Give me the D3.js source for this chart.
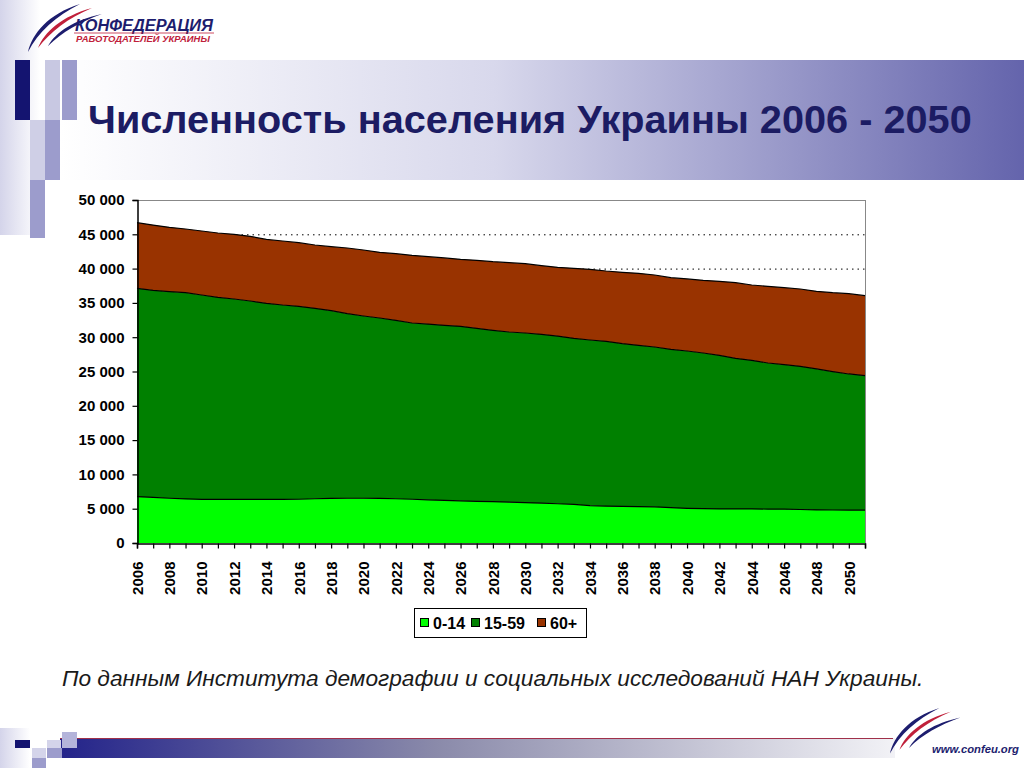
<!DOCTYPE html>
<html><head><meta charset="utf-8">
<script src="https://cdn.jsdelivr.net/npm/d3@7"></script>
<style>html,body{margin:0;padding:0;background:#fff;}svg{display:block;font-family:"Liberation Sans",Arial,sans-serif;}</style>
</head><body>
<script>
// ---- data (thousands of people) ----
const years = [2006,2007,2008,2009,2010,2011,2012,2013,2014,2015,2016,2017,2018,2019,2020,2021,2022,2023,2024,2025,2026,2027,2028,2029,2030,2031,2032,2033,2034,2035,2036,2037,2038,2039,2040,2041,2042,2043,2044,2045,2046,2047,2048,2049,2050,2051];
const age0_14 = [6750,6650,6520,6420,6360,6350,6350,6350,6350,6360,6380,6450,6510,6520,6520,6500,6450,6380,6300,6220,6150,6080,6020,5950,5880,5800,5720,5630,5450,5380,5330,5300,5280,5150,5050,5000,4970,4960,4960,4950,4950,4880,4820,4810,4800,4800];
const age15_59 = [30370,30180,30120,30070,29790,29460,29220,28930,28590,28330,28120,27760,27360,26910,26570,26300,26010,25690,25620,25510,25430,25210,24980,24810,24730,24620,24450,24200,24140,24020,23730,23510,23290,23080,22940,22700,22390,21960,21670,21290,21050,20880,20550,20170,19840,19600];
const age60plus = [9580,9520,9380,9280,9330,9380,9420,9420,9320,9330,9280,9230,9330,9570,9620,9570,9720,9860,9820,9820,9770,9920,10010,10110,10110,10010,10020,10210,10310,10250,10400,10500,10500,10450,10500,10590,10790,11030,10980,11180,11220,11270,11320,11510,11710,11650];
const seriesNames = ["0-14","15-59","60+"];
const seriesColors = ["#00ff00","#008000","#993300"];
const yTicks = [0,5000,10000,15000,20000,25000,30000,35000,40000,45000,50000];
const title = "Численность населения Украины 2006 - 2050";
const source = "По данным Института демографии и социальных исследований НАН Украины.";

const W = 1024, H = 768;
const svg = d3.select("body").append("svg").attr("width", W).attr("height", H);
const defs = svg.append("defs");

function fit(sel, width){
  const fs = parseFloat(sel.attr("font-size"));
  const w = sel.node().getComputedTextLength();
  if (w > 0) sel.attr("font-size", (fs*width/w).toFixed(2));
  return sel;
}

// header band gradient
const g1 = defs.append("linearGradient").attr("id","band").attr("x1","0").attr("x2","1").attr("y1","0").attr("y2","0");
g1.append("stop").attr("offset","0").attr("stop-color","#ffffff");
g1.append("stop").attr("offset","0.45").attr("stop-color","#d8d8ec");
g1.append("stop").attr("offset","1").attr("stop-color","#6464ac");
svg.append("rect").attr("x",60).attr("y",60).attr("width",W-60).attr("height",120).attr("fill","url(#band)");

// left faint strip
const g2 = defs.append("linearGradient").attr("id","strip").attr("x1","0").attr("x2","1");
g2.append("stop").attr("offset","0").attr("stop-color","#d4d4ea");
g2.append("stop").attr("offset","1").attr("stop-color","#ffffff");
svg.append("rect").attr("x",0).attr("y",0).attr("width",40).attr("height",235).attr("fill","url(#strip)");
svg.append("rect").attr("x",0).attr("y",728).attr("width",30).attr("height",40).attr("fill","url(#strip)");

// decorative squares (top-left)
const sq = [
  [15,60,15,60,"#141470"],[45,60,15,60,"#c8c8e2"],[62,60,15,60,"#9c9ccc"],
  [30,120,15,60,"#cfcfe6"],[45,120,15,60,"#9c9ccc"],[30,180,15,58,"#9c9ccc"]
];
sq.forEach(s=>svg.append("rect").attr("x",s[0]).attr("y",s[1]).attr("width",s[2]).attr("height",s[3]).attr("fill",s[4]));

// footer bar
const g3 = defs.append("linearGradient").attr("id","foot").attr("x1","0").attr("x2","1");
g3.append("stop").attr("offset","0").attr("stop-color","#23238a");
g3.append("stop").attr("offset","0.45").attr("stop-color","#8a8aaa");
g3.append("stop").attr("offset","1").attr("stop-color","#f2f2f6");
svg.append("rect").attr("x",60).attr("y",738).attr("width",835).attr("height",20).attr("fill","url(#foot)");
svg.append("line").attr("x1",60).attr("x2",893).attr("y1",738.5).attr("y2",738.5).attr("stroke","#a0304a").attr("stroke-width",1);
const fsq = [
  [15,740,15,8,"#141470"],[47,740,14,8,"#d4d4ea"],[47,748,15,10,"#9c9ccc"],
  [62,732,15,16,"#b4b4da"],[32,748,14,10,"#d4d4ea"],[32,758,14,10,"#9c9ccc"]
];
fsq.forEach(s=>svg.append("rect").attr("x",s[0]).attr("y",s[1]).attr("width",s[2]).attr("height",s[3]).attr("fill",s[4]));

// logo swooshes
function swoosh(x0,y0,s){
  const g = svg.append("g").attr("transform",`translate(${x0},${y0}) scale(${s})`);
  g.append("path").attr("d","M0,48 C4,30 20,10 52,0 C28,12 10,28 0,48Z").attr("fill","#1d1d6e");
  g.append("path").attr("d","M10,44 C16,28 34,12 64,4 C40,14 22,28 10,44Z").attr("fill","#c0203a");
  g.append("path").attr("d","M20,42 C28,28 46,16 74,10 C52,18 34,28 20,42Z").attr("fill","#1d1d6e");
}
swoosh(28,4,1);
fit(svg.append("text").attr("x",75).attr("y",31).attr("font-size",15.5).attr("font-weight","bold").attr("font-style","italic").attr("fill","#1d1d6e").text("КОНФЕДЕРАЦИЯ"),138);
svg.append("line").attr("x1",74).attr("x2",214).attr("y1",33).attr("y2",33).attr("stroke","#c0203a").attr("stroke-width",0.8);
fit(svg.append("text").attr("x",76).attr("y",42).attr("font-size",8.5).attr("font-weight","bold").attr("font-style","italic").attr("fill","#c0203a").text("РАБОТОДАТЕЛЕЙ УКРАИНЫ"),134);
swoosh(890,708,0.95);
fit(svg.append("text").attr("x",932).attr("y",753).attr("font-size",12).attr("font-weight","bold").attr("font-style","italic").attr("fill","#1d1d6e").text("www.confeu.org"),87);

// title
fit(svg.append("text").attr("x",88).attr("y",133).attr("font-size",38).attr("font-weight","bold").attr("fill","#1c1c63").text(title),884);

// ---- chart ----
const x = d3.scaleLinear().domain([years[0], years[years.length-1]]).range([137,865]);
const y = d3.scaleLinear().domain([0,50000]).range([543,200]);
const fmt = d3.formatLocale({decimal:",",thousands:" ",grouping:[3],currency:["",""]}).format(",d");

const plot = svg.append("g");
plot.append("rect").attr("x",137).attr("y",200).attr("width",728).attr("height",343).attr("fill","#fff");
// gridlines
plot.selectAll("line.grid").data(yTicks.filter(t=>t>0 && t<50000)).join("line")
  .attr("x1",137).attr("x2",865).attr("y1",d=>y(d)+0.5).attr("y2",d=>y(d)+0.5)
  .attr("stroke","#000").attr("stroke-width",1).attr("stroke-dasharray","1.5,4");

const table = years.map((yr,i)=>({year:yr, "0-14":age0_14[i], "15-59":age15_59[i], "60+":age60plus[i]}));
const stacked = d3.stack().keys(seriesNames)(table);
const area = d3.area().x(d=>x(d.data.year)).y0(d=>y(d[0])).y1(d=>y(d[1]));
const line = d3.line().x(d=>x(d.data.year)).y(d=>y(d[1]));
plot.selectAll("path.area").data(stacked).join("path").attr("fill",(d,i)=>seriesColors[i]).attr("d",area);
plot.selectAll("path.edge").data(stacked).join("path").attr("fill","none").attr("stroke","#000").attr("stroke-width",1.2).attr("d",line);

// border top/right
plot.append("line").attr("x1",137).attr("x2",865.5).attr("y1",200.5).attr("y2",200.5).attr("stroke","#888");
plot.append("line").attr("x1",865.5).attr("x2",865.5).attr("y1",200).attr("y2",543).attr("stroke","#888");

// axes
const yAxis = d3.axisLeft(y).tickValues(yTicks).tickSize(5).tickPadding(8).tickFormat(fmt);
const gy = svg.append("g").attr("transform","translate(137.5,0)").call(yAxis);
const xAxis = d3.axisBottom(x).tickValues(years).tickSize(5).tickPadding(8).tickFormat(d=>d%2===0?String(d):"");
const gx = svg.append("g").attr("transform","translate(0,543.5)").call(xAxis);
[gx,gy].forEach(g=>{g.select(".domain").attr("stroke","#000").attr("stroke-width",1.5);g.selectAll(".tick line").attr("stroke","#000").attr("stroke-width",1.2);
  g.selectAll("text").attr("font-family","'Liberation Sans',Arial,sans-serif").attr("font-size",15).attr("font-weight","bold").attr("fill","#000");});
gx.selectAll(".tick text").attr("transform","rotate(-90)").attr("text-anchor","end").attr("dx","-0.6em").attr("dy","0.35em").attr("x",-9).attr("y",0);

// legend
const lg = svg.append("g");
lg.append("rect").attr("x",414.5).attr("y",608.5).attr("width",172).attr("height",29).attr("fill","#fff").attr("stroke","#000");
const lx = [420,471,537];
seriesNames.forEach((n,i)=>{
  lg.append("rect").attr("x",lx[i]+0.5).attr("y",618.5).attr("width",8).attr("height",8).attr("fill",seriesColors[i]).attr("stroke","#000");
  lg.append("text").attr("x",lx[i]+13).attr("y",629).attr("font-size",16).attr("font-weight","bold").attr("fill","#000").text(n);
});

// source
fit(svg.append("text").attr("x",62).attr("y",686).attr("font-size",19).attr("font-style","italic").attr("fill","#1a1a1a").text(source),862);
</script>
</body></html>
